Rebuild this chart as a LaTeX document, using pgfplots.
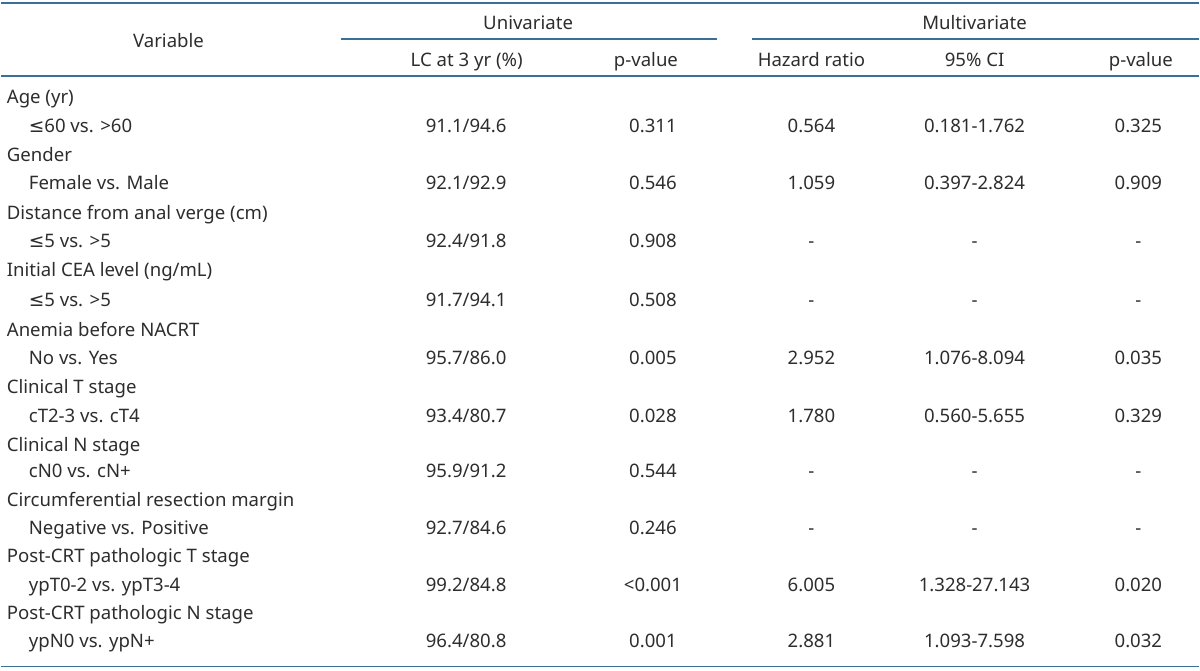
\documentclass[border=0pt]{standalone}
\usepackage{fontspec}
\setmainfont{Noto Sans}
\newfontfamily\symfont{DejaVu Sans}
\usepackage{pgfplots}
\usepackage{pgfplotstable}
\pgfplotsset{compat=1.18}
\definecolor{rulecol}{RGB}{58,111,150}
\definecolor{txt}{RGB}{45,45,45}
\newcommand{\lesym}{{\symfont ≤}}
\newcommand{\tabfont}{\fontsize{18.6bp}{20bp}\selectfont}

\pgfplotstableread[col sep=semicolon]{
x;y;label
6;103.3;Age (yr)
28;132.3;\lesym60 vs. >60
6;161.7;Gender
28;190;Female vs. Male
6;220;Distance from anal verge (cm)
28;248;\lesym5 vs. >5
6;276.7;Initial CEA level (ng/mL)
28;306.7;\lesym5 vs. >5
6;336.7;Anemia before NACRT
28;365;No vs. Yes
6;394;Clinical T stage
28;422.7;cT2-3 vs. cT4
6;451.7;Clinical N stage
28;478.3;cN0 vs. cN+
6;506.7;Circumferential resection margin
28;535;Negative vs. Positive
6;563.3;Post-CRT pathologic T stage
28;591.7;ypT0-2 vs. ypT3-4
6;620;Post-CRT pathologic N stage
28;648.3;ypN0 vs. ypN+
}\varlabels

\pgfplotstableread[col sep=semicolon]{
x;y;label
168;48;Variable
528;30;Univariate
975;30;Multivariate
466.5;66.7;LC at 3 yr (\%)
646;66.7;p-value
811.7;66.7;Hazard ratio
975;66.7;95\% CI
1141.5;66.7;p-value
}\headers

\pgfplotstableread[col sep=semicolon]{
x;y;label
466;132.3;91.1/94.6
466;190;92.1/92.9
466;248;92.4/91.8
466;306.7;91.7/94.1
466;365;95.7/86.0
466;422.7;93.4/80.7
466;478.3;95.9/91.2
466;535;92.7/84.6
466;591.7;99.2/84.8
466;648.3;96.4/80.8
653;132.3;0.311
653;190;0.546
653;248;0.908
653;306.7;0.508
653;365;0.005
653;422.7;0.028
653;478.3;0.544
653;535;0.246
653;591.7;<0.001
653;648.3;0.001
811.7;132.3;0.564
811.7;190;1.059
811.7;248;-
811.7;306.7;-
811.7;365;2.952
811.7;422.7;1.780
811.7;478.3;-
811.7;535;-
811.7;591.7;6.005
811.7;648.3;2.881
975;132.3;0.181-1.762
975;190;0.397-2.824
975;248;-
975;306.7;-
975;365;1.076-8.094
975;422.7;0.560-5.655
975;478.3;-
975;535;-
975;591.7;1.328-27.143
975;648.3;1.093-7.598
1139;132.3;0.325
1139;190;0.909
1139;248;-
1139;306.7;-
1139;365;0.035
1139;422.7;0.329
1139;478.3;-
1139;535;-
1139;591.7;0.020
1139;648.3;0.032
}\cells

\begin{document}
\begin{tikzpicture}
\begin{axis}[
  scale only axis, width=1200bp, height=671bp,
  xmin=0, xmax=1200, ymin=0, ymax=671, y dir=reverse,
  axis lines=box, axis line style={draw=none},
  xtick=\empty, ytick=\empty, clip=false,
  txtplot/.style={only marks, mark=*, mark size=0pt,
    mark options={draw=none, fill=none},
    point meta=explicit symbolic,
    nodes near coords={\pgfplotspointmeta}},
]
% rules
\addplot[rulecol, line width=1.4bp, no marks] coordinates {(0,3) (1200,3)};
\addplot[rulecol, line width=1.4bp, no marks] coordinates {(341,39) (717,39)};
\addplot[rulecol, line width=1.4bp, no marks] coordinates {(752,39) (1200,39)};
\addplot[rulecol, line width=1.4bp, no marks] coordinates {(0,76) (1200,76)};
\addplot[rulecol, line width=1.4bp, no marks] coordinates {(0,667) (1200,667)};
% text
\addplot[txtplot, every node near coord/.append style={anchor=base west, inner sep=0pt, text=txt, font=\tabfont}]
  table[x=x, y=y, meta=label] {\varlabels};
\addplot[txtplot, every node near coord/.append style={anchor=base, inner sep=0pt, text=txt, font=\tabfont}]
  table[x=x, y=y, meta=label] {\headers};
\addplot[txtplot, every node near coord/.append style={anchor=base, inner sep=0pt, text=txt, font=\tabfont}]
  table[x=x, y=y, meta=label] {\cells};
\end{axis}
\end{tikzpicture}
\end{document}
